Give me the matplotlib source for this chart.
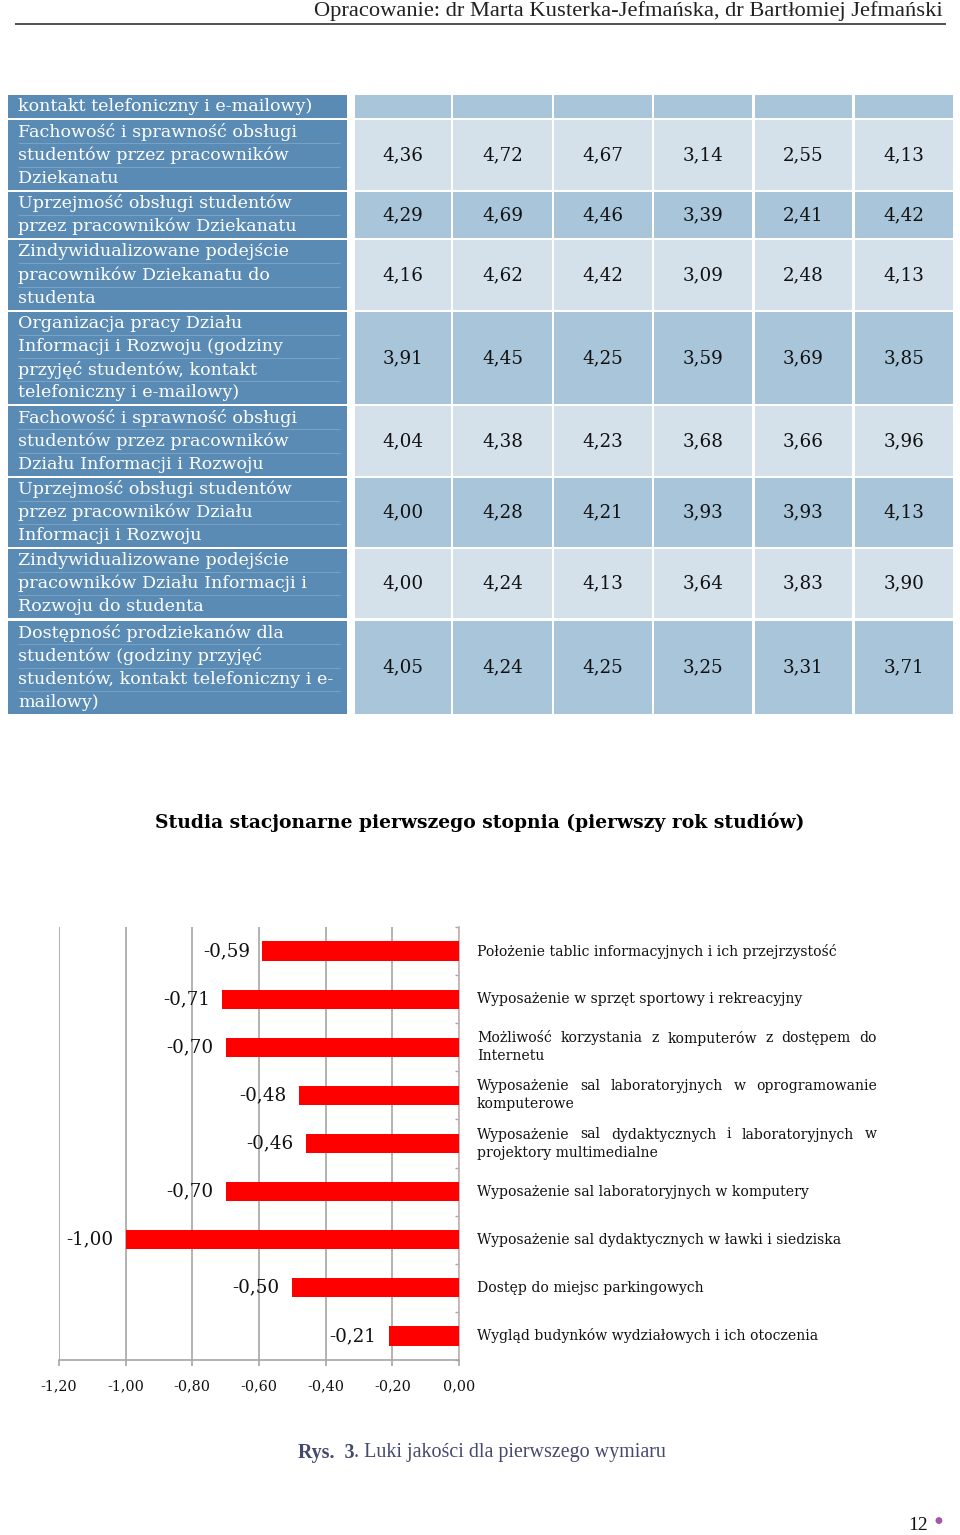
import numpy as np
import matplotlib
matplotlib.use("Agg")
import matplotlib.pyplot as plt
from matplotlib.patches import Rectangle

W, H, DPI = 960, 1535, 100

# ---- table data -----------------------------------------------------------
row_labels = [
    ["kontakt telefoniczny i e-mailowy)"],
    ["Fachowość i sprawność obsługi", "studentów przez pracowników", "Dziekanatu"],
    ["Uprzejmość obsługi studentów", "przez pracowników Dziekanatu"],
    ["Zindywidualizowane podejście", "pracowników Dziekanatu do", "studenta"],
    ["Organizacja pracy Działu", "Informacji i Rozwoju (godziny",
     "przyjęć studentów, kontakt", "telefoniczny i e-mailowy)"],
    ["Fachowość i sprawność obsługi", "studentów przez pracowników",
     "Działu Informacji i Rozwoju"],
    ["Uprzejmość obsługi studentów", "przez pracowników Działu",
     "Informacji i Rozwoju"],
    ["Zindywidualizowane podejście", "pracowników Działu Informacji i",
     "Rozwoju do studenta"],
    ["Dostępność prodziekanów dla", "studentów (godziny przyjęć",
     "studentów, kontakt telefoniczny i e-", "mailowy)"],
]
table_values = [
    [],
    [4.36, 4.72, 4.67, 3.14, 2.55, 4.13],
    [4.29, 4.69, 4.46, 3.39, 2.41, 4.42],
    [4.16, 4.62, 4.42, 3.09, 2.48, 4.13],
    [3.91, 4.45, 4.25, 3.59, 3.69, 3.85],
    [4.04, 4.38, 4.23, 3.68, 3.66, 3.96],
    [4.00, 4.28, 4.21, 3.93, 3.93, 4.13],
    [4.00, 4.24, 4.13, 3.64, 3.83, 3.90],
    [4.05, 4.24, 4.25, 3.25, 3.31, 3.71],
]

# ---- gap chart data -------------------------------------------------------
gap_labels = [
    "Położenie tablic informacyjnych i ich przejrzystość",
    "Wyposażenie w sprzęt sportowy i rekreacyjny",
    "Możliwość korzystania z komputerów z dostępem do\nInternetu",
    "Wyposażenie sal laboratoryjnych w oprogramowanie\nkomputerowe",
    "Wyposażenie sal dydaktycznych i laboratoryjnych w\nprojektory multimedialne",
    "Wyposażenie sal laboratoryjnych w komputery",
    "Wyposażenie sal dydaktycznych w ławki i siedziska",
    "Dostęp do miejsc parkingowych",
    "Wygląd budynków wydziałowych i ich otoczenia",
]
gap_values = [-0.59, -0.71, -0.70, -0.48, -0.46, -0.70, -1.00, -0.50, -0.21]
gap_ticks = [-1.2, -1.0, -0.8, -0.6, -0.4, -0.2, 0.0]

title = "Studia stacjonarne pierwszego stopnia (pierwszy rok studiów)"
header = "Opracowanie: dr Marta Kusterka-Jefmańska, dr Bartłomiej Jefmański"


def pl(v):
    return f"{v:.2f}".replace(".", ",")


SERIF = "DejaVu Serif"
BLUE = "#5a8bb5"
DARK = "#a9c5da"
LIGHT = "#d4e1eb"

fig = plt.figure(figsize=(W / DPI, H / DPI), dpi=DPI)
page = fig.add_axes([0, 0, 1, 1])
page.set_xlim(0, W)
page.set_ylim(H, 0)
page.axis("off")

# header
page.text(943, 11, header, ha="right", va="center", fontsize=16.2,
          family="Liberation Serif", color="#222222")
page.hlines(24, 15, 946, color="#333333", lw=1.2)

# ---- table ----------------------------------------------------------------
row_top = [95, 120, 192, 240, 312, 406, 478, 549, 621]
row_bot = [118, 190, 238, 310, 404, 476, 547, 618, 714]
label_col = (8, 347)
val_cols = [(355, 451), (453, 552), (554, 652), (654, 752), (755, 852), (855, 953)]
line_h = 23.2

for r, (t, b) in enumerate(zip(row_top, row_bot)):
    fill = DARK if r % 2 == 0 else LIGHT
    page.add_patch(Rectangle((label_col[0], t), label_col[1] - label_col[0], b - t,
                             facecolor=BLUE, edgecolor="none"))
    lines = row_labels[r]
    first = (t + b) / 2 - (len(lines) - 1) * line_h / 2
    for k, txt in enumerate(lines):
        yy = first + k * line_h
        page.text(18, yy, txt, ha="left", va="center", fontsize=12.6,
                  family=SERIF, color="white")
        if k < len(lines) - 1:
            page.hlines(yy + line_h / 2, 18, 340, color="#7ea6c8", lw=0.6)
    for c, (x0, x1) in enumerate(val_cols):
        page.add_patch(Rectangle((x0, t), x1 - x0, b - t,
                                 facecolor=fill, edgecolor="none"))
        if c < len(table_values[r]):
            page.text((x0 + x1) / 2, (t + b) / 2, pl(table_values[r][c]),
                      ha="center", va="center", fontsize=13.2,
                      family=SERIF, color="#111111")

# title
page.text(480, 822, title, ha="center", va="center", fontsize=13.5,
          family=SERIF, fontweight="bold", color="black")

# ---- gap bar chart ----------------------------------------------------------
n = len(gap_values)
ax = fig.add_axes([59 / W, (H - 1360) / H, 400 / W, 433 / H])
y = np.arange(n)
ax.barh(y, gap_values, height=0.4, color="#ff0000", zorder=3)
ax.set_xlim(-1.2, 0)
ax.set_ylim(n - 0.5, -0.5)
ax.set_xticks(gap_ticks)
ax.set_xticklabels([pl(v) for v in gap_ticks], family=SERIF, fontsize=10.3)
ax.grid(axis="x", color="#a6a6a6", lw=1.2, zorder=0)
ax.set_axisbelow(True)
for s in ("top", "left"):
    ax.spines[s].set_visible(False)
ax.spines["bottom"].set_color("#a6a6a6")
ax.spines["bottom"].set_linewidth(1.2)
ax.spines["right"].set_color("#c8b0b0")
ax.spines["right"].set_linewidth(1.2)
ax.tick_params(axis="x", direction="out", length=4, width=1.2, color="#a6a6a6",
               pad=10, labelcolor="#111111")
ax.yaxis.tick_right()
ax.set_yticks([])
ax.set_yticks(np.arange(-0.5, n), minor=True)
ax.tick_params(axis="y", which="minor", direction="in", length=3, width=1,
               color="#a6a6a6")
ax.set_facecolor("none")

for i, v in enumerate(gap_values):
    ax.annotate(pl(v), xy=(v, i), xytext=(-9, 0), textcoords="offset points",
                ha="right", va="center", fontsize=13.2, family=SERIF,
                color="#111111")

# category labels, justified like the source document
renderer = fig.canvas.get_renderer()
lab_x0, lab_x1 = 477, 877
lab_fs = 10.1
lab_lh = 18


def word_width(w):
    t = page.text(0, 0, w, fontsize=lab_fs, family=SERIF)
    wd = t.get_window_extent(renderer).width
    t.remove()
    return wd


for i, lab in enumerate(gap_labels):
    yc = H - ax.transData.transform((0, i))[1]
    lines = lab.split("\n")
    first = yc - (len(lines) - 1) * lab_lh / 2
    for k, line in enumerate(lines):
        yy = first + k * lab_lh
        if k < len(lines) - 1:
            words = line.split(" ")
            widths = [word_width(w) for w in words]
            gap = (lab_x1 - lab_x0 - sum(widths)) / (len(words) - 1)
            xx = lab_x0
            for w, wd in zip(words, widths):
                page.text(xx, yy, w, ha="left", va="center", fontsize=lab_fs,
                          family=SERIF, color="#111111")
                xx += wd + gap
        else:
            page.text(lab_x0, yy, line, ha="left", va="center", fontsize=lab_fs,
                      family=SERIF, color="#111111")

# caption
cap = page.text(298, 1453, "Rys.  3", ha="left", va="center", fontsize=14.4,
                family="Liberation Serif", fontweight="bold", color="#45496e")
cx = 298 + cap.get_window_extent(renderer).width
page.text(cx, 1453, ". Luki jakości dla pierwszego wymiaru", ha="left", va="center",
          fontsize=14.4, family="Liberation Serif", color="#45496e")

# page number
page.text(928, 1525, "12", ha="right", va="center", fontsize=14,
          family="Liberation Serif", color="#111111")
page.text(938, 1520, "●", ha="center", va="center", fontsize=6.5,
          family="DejaVu Sans", color="#a257a8")

fig.savefig("out.png", dpi=DPI)
